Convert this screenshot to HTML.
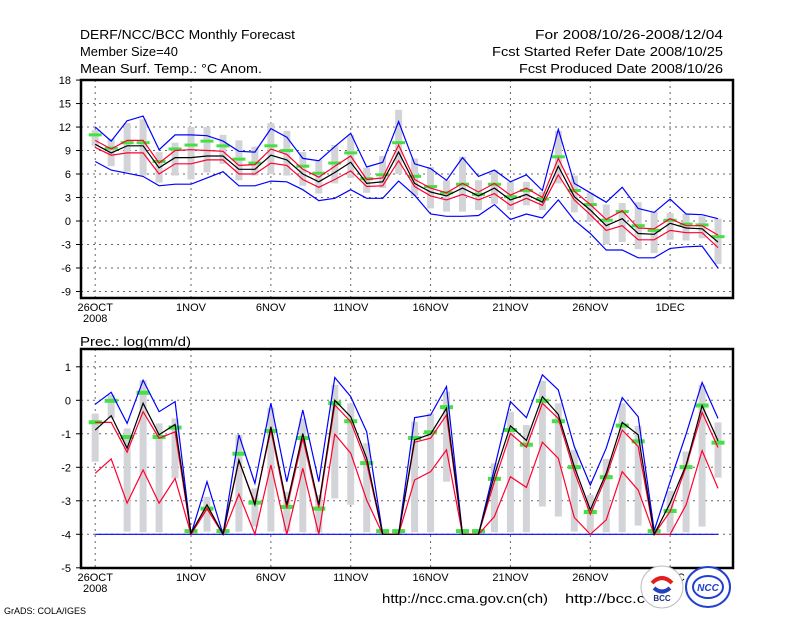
<!DOCTYPE html>
<html><head><meta charset="utf-8"><style>
html,body{margin:0;padding:0;background:#fff;}
svg{display:block;font-family:"Liberation Sans",sans-serif;}
</style></head><body>
<svg id="chart" width="800" height="618" viewBox="0 0 800 618">
<g font-size="13" fill="#000">
<text x="80" y="39" textLength="215" lengthAdjust="spacingAndGlyphs">DERF/NCC/BCC Monthly Forecast</text>
<text x="80" y="56" textLength="98" lengthAdjust="spacingAndGlyphs">Member Size=40</text>
<text x="80" y="73" textLength="182" lengthAdjust="spacingAndGlyphs">Mean Surf. Temp.: °C Anom.</text>
<text x="535" y="39" textLength="188" lengthAdjust="spacingAndGlyphs">For 2008/10/26-2008/12/04</text>
<text x="492" y="56" textLength="231" lengthAdjust="spacingAndGlyphs">Fcst Started Refer Date 2008/10/25</text>
<text x="519" y="73" textLength="204" lengthAdjust="spacingAndGlyphs">Fcst Produced Date 2008/10/26</text>
<text x="80" y="346" textLength="111" lengthAdjust="spacingAndGlyphs">Prec.: log(mm/d)</text>
<text x="382" y="603" textLength="166" lengthAdjust="spacingAndGlyphs">http://ncc.cma.gov.cn(ch)</text>
<text x="565" y="603" textLength="80" lengthAdjust="spacingAndGlyphs">http://bcc.c</text>
<text x="4" y="614" font-size="9">GrADS: COLA/IGES</text>
</g>
<g id="top"></g>
<g id="bot"></g>
<g>
<circle cx="662" cy="587" r="21" fill="#fff" stroke="#bbb"/>
<path d="M652 583 q10 -10 20 0" stroke="#e02020" stroke-width="4" fill="none"/>
<path d="M654 588 q8 7 16 0" stroke="#2040c0" stroke-width="4" fill="none"/>
<text x="662" y="601" font-size="8" font-weight="bold" text-anchor="middle" fill="#203080">BCC</text>
<ellipse cx="708" cy="587" rx="22" ry="20" fill="#fff" stroke="#2040d0" stroke-width="2"/>
<ellipse cx="708" cy="587" rx="15" ry="11" fill="none" stroke="#2040d0" stroke-width="2"/>
<text x="708" y="591" font-size="10" font-style="italic" font-weight="bold" text-anchor="middle" fill="#2040d0">NCC</text>
</g>
</svg>
<script>
const days=["26OCT","1NOV","6NOV","11NOV","16NOV","21NOV","26NOV","1DEC"];
const dayIdx=[0,6,11,16,21,26,31,36];
const tTicks=[18,15,12,9,6,3,0,-3,-6,-9];
const pTicks=[1,0,-1,-2,-3,-4,-5];
const tMax=[12,10.2,12.8,13.4,9.1,11,11,10.9,10.2,8.9,8.8,11.8,10.7,8,7.7,9.5,11.2,6.9,7.5,12.7,7.3,6.7,5.2,8.1,5.7,6.5,5,5.9,3.9,11.7,4.8,3.6,2.4,4.3,1.6,1.1,2.8,0.9,0.8,0.3];
const tMin=[7.6,6.5,6.1,5.7,4.5,4.7,4.7,5.5,6.3,4.5,4.5,5.1,5,4,2.6,2.9,4,2.9,2.9,5.1,3.3,0.9,0.6,0.6,0.7,2.1,0.2,0.9,0.4,2.7,0.1,-1.6,-3.7,-3.7,-4.7,-4.7,-3.5,-3.3,-3.2,-6];
const tMean=[9.8,8.7,9.6,9.6,6.8,8.1,8.1,8.3,8.3,6.6,6.6,8.4,7.8,6,5,6.2,7.5,4.8,5,8.8,4.8,3.7,3.2,4.2,3.2,4.2,2.7,3.4,2.4,7,3.1,1.4,-0.6,0.3,-1.6,-1.7,-0.3,-0.9,-1,-2.7];
const tUp=[10.3,9.2,10.3,10.3,7.4,9,9.1,9,8.9,7.1,7.2,9.2,8.5,6.6,5.6,7,8.3,5.3,5.5,9.7,5.3,4.2,3.6,4.8,3.7,4.8,3.3,4.2,3,8,3.8,2.1,0.2,1.3,-0.9,-1,0.3,-0.6,-0.6,-1.8];
const tLo=[9.4,8.4,8.7,8.7,6,7.3,7.3,7.8,7.8,6,6,7.4,7.1,5.3,4.3,5.3,6.4,4.4,4.5,7.7,4.4,3.2,2.7,3.4,2.7,3.5,2,2.9,2,5.9,2.7,0.8,-1.2,-0.6,-2.4,-2.4,-1.2,-1.5,-1.5,-3.4];
const tObs=[11,9.3,10,10,7.6,9.2,9.7,10.2,9.6,7.9,7.4,9.6,9,7,6.1,7.4,8.7,5.4,5.9,10,5.7,4.4,3.6,4.7,3.4,4.7,3.1,3.9,2.8,8.2,3.9,2.1,0.1,1.2,-0.6,-1.2,0.1,-0.4,-0.5,-2];
const tGHi=[11.6,10.5,12.5,13,8.8,10,12,12,11,10.3,9.5,12.5,11.5,8.8,7.8,9.7,11,6.8,8.3,14.2,8,6.9,5.2,8.2,5.2,6.5,5,5,3.7,11.5,5.8,3.6,2.1,2.3,2.4,1.2,1,0.9,0.6,0.3];
const tGLo=[9.6,7,6.3,5.8,4.9,5.8,5.3,6.2,7.3,5.2,5.8,6,5.8,4.5,3.5,4.8,5.5,3.6,4.2,6,3.2,1.6,1.2,1.2,1.4,2.2,1.4,2,1.4,4.8,1.1,-0.1,-3,-2.7,-3.6,-4.1,-2.4,-2.5,-2.2,-5.5];
const pMax=[-0.12,0.24,-0.69,0.6,-0.34,-0.04,-4,-2.43,-4,-1.03,-2.48,-0.09,-2.43,-0.29,-2.43,0.68,0.11,-0.94,-4,-4,-0.52,-0.44,0.41,-4,-4,-2.03,-0.04,-0.52,0.76,0.31,-1.38,-2.53,-1.43,0.08,-0.49,-3.89,-2.43,-1.01,0.53,-0.54];
const pMin=[-4,-4,-4,-4,-4,-4,-4,-4,-4,-4,-4,-4,-4,-4,-4,-4,-4,-4,-4,-4,-4,-4,-4,-4,-4,-4,-4,-4,-4,-4,-4,-4,-4,-4,-4,-4,-4,-4,-4,-4];
const pMean=[-0.89,-0.46,-1.43,-0.09,-1.03,-0.72,-3.97,-3.12,-4,-1.78,-3.12,-0.79,-3.12,-0.99,-3.12,0,-0.49,-1.73,-4,-4,-1.18,-1.01,-0.24,-4,-4,-2.23,-0.76,-1.2,0.11,-0.42,-1.98,-3.27,-2.18,-0.66,-1.03,-4,-3.07,-1.93,-0.16,-1.21];
const pUp=[-0.66,-0.66,-1.55,-0.34,-1.13,-0.94,-4,-3.22,-4,-1.81,-3.07,-0.89,-3.22,-1.13,-3.2,-0.14,-0.64,-1.88,-4,-4,-1.25,-1.13,-0.44,-4,-4,-2.43,-0.99,-1.4,-0.09,-0.54,-2.13,-3.4,-2.28,-0.89,-1.38,-4,-3.32,-1.98,-0.36,-1.41];
const pLo=[-2.18,-1.75,-3.07,-2.08,-3.07,-2.33,-4,-3.24,-4,-2.8,-4,-1.93,-4,-2.03,-4,-1.01,-1.58,-2.98,-4,-4,-2.38,-2.13,-1.48,-4,-4,-3.47,-2.28,-2.6,-1.25,-1.73,-3.5,-4,-3.57,-2.13,-2.68,-4,-4,-3.12,-1.5,-2.63];
const pObs=[-0.64,0,-1.08,0.24,-1.08,-0.8,-3.89,-3.22,-3.89,-1.58,-3.04,-0.9,-3.17,-1.11,-3.22,-0.07,-0.61,-1.86,-3.89,-3.89,-1.11,-0.94,-0.19,-3.89,-3.89,-2.33,-0.87,-1.31,0,-0.61,-1.98,-3.32,-2.28,-0.74,-1.21,-3.89,-3.29,-1.98,-0.14,-1.25];
const pGHi=[-0.4,0.16,-0.84,0.6,-0.69,-0.54,-3.85,-2.88,-3.85,-1.03,-2.63,-0.22,-2.73,-0.54,-2.83,0.46,-0.09,-1.28,-3.85,-3.85,-0.64,-0.39,0.26,-3.85,-3.85,-1.88,-0.34,-0.74,0.58,-0.09,-1.48,-2.83,-1.75,-0.09,-0.76,-3.85,-2.7,-1.53,0.46,-0.66];
const pGLo=[-1.83,-0.54,-3.92,-3.94,-3.94,-2.33,-4,-3.92,-4,-3.92,-3.77,-3.92,-3.92,-3.94,-3.94,-2.93,-3.12,-3.94,-4,-4,-3.94,-3.94,-2.43,-4,-4,-3.94,-3.94,-3.94,-3.17,-3.47,-3.92,-3.94,-3.94,-3.94,-3.74,-4,-3.94,-3.94,-3.77,-2.31];

const NS="http://www.w3.org/2000/svg";
function mk(parent,tag,attrs){const e=document.createElementNS(NS,tag);for(const k in attrs)e.setAttribute(k,attrs[k]);parent.appendChild(e);return e;}
const xDay=i=>95.2+i*15.97;
const L=81,R=733;

function panel(g,top,bottom,yFn,ticks,d){
  ticks.forEach(t=>{
    const y=yFn(t);
    if(y>top+2&&y<bottom-2){const ln=mk(g,'line',{x1:L,x2:R,y1:y,y2:y,stroke:'#666','stroke-dasharray':'2,4','stroke-width':1});
    
    }
    const tk=mk(g,'line',{x1:L-5,x2:L,y1:y,y2:y,stroke:'#000'});
    
    
    const tx=mk(g,'text',{x:L-10,y:y+4,'font-size':11,'text-anchor':'end'});
    tx.textContent=t;
    
    
  });
  dayIdx.forEach((di,k)=>{
    const x=xDay(di);
    const ln=mk(g,'line',{x1:x,x2:x,y1:top,y2:bottom,stroke:'#666','stroke-dasharray':'2,4'});
    
    
    const tx=mk(g,'text',{x:x,y:bottom+13,'font-size':11,'text-anchor':'middle'});
    tx.textContent=days[k];
    
    
  });
  const yr=mk(g,'text',{x:xDay(0),y:bottom+24,'font-size':11,'text-anchor':'middle'});
  yr.textContent='2008';
  
  
  d.ghi.forEach((v,i)=>{
    const y1=yFn(v),y2=yFn(d.glo[i]);
    const r=mk(g,'rect',{x:xDay(i)-3.5,y:y1,width:7,height:Math.max(1,y2-y1),fill:'#d3d4d8'});
    
    
  });
  d.obs.forEach((v,i)=>{
    const r=mk(g,'rect',{x:xDay(i)-6.5,y:yFn(v)-1.5,width:13,height:d.gh,fill:'#44e044'});
    
    
  });
  const series=[[d.min,'#0000ff','min-line'],[d.lo,'#ff0030','lower-line'],[d.max,'#0000ff','max-line'],[d.up,'#ff0030','upper-line'],[d.mean,'#000','mean-line']];
  series.forEach(s=>{
    const pts=s[0].map((v,i)=>xDay(i).toFixed(1)+','+yFn(v).toFixed(1)).join(' ');
    const p=mk(g,'polyline',{points:pts,fill:'none',stroke:s[1],'stroke-width':1.2});
    
    
  });
  const box=mk(g,'rect',{x:L,y:top,width:R-L,height:bottom-top,fill:'none',stroke:'#000','stroke-width':2.5});
  
  
}
panel(document.getElementById('top'),80,298,v=>221-v*7.83,tTicks,
  {max:tMax,min:tMin,mean:tMean,up:tUp,lo:tLo,obs:tObs,ghi:tGHi,glo:tGLo,gh:3});
panel(document.getElementById('bot'),349,568,v=>400.3-v*33.5,pTicks,
  {max:pMax,min:pMin,mean:pMean,up:pUp,lo:pLo,obs:pObs,ghi:pGHi,glo:pGLo,gh:4});
</script>
</body></html>
